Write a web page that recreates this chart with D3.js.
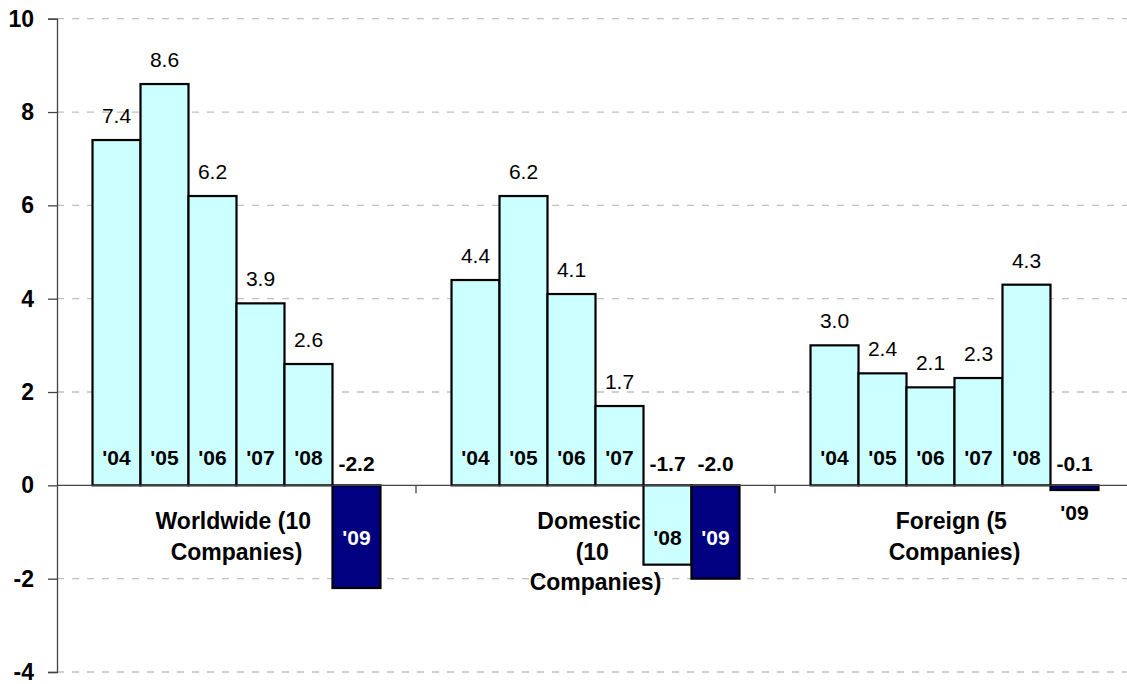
<!DOCTYPE html>
<html>
<head>
<meta charset="utf-8">
<script src="https://cdn.jsdelivr.net/npm/d3@7"></script>
<style>
  body { margin: 0; background: #fff; }
  svg { display: block; }
  svg text { font-family: "Liberation Sans", Arial, sans-serif; white-space: pre; }
  .grid line { stroke: #c0c0c0; stroke-dasharray: 7 8; stroke-width: 1.3; }
  .bar { stroke: #000; stroke-width: 2.2; }
</style>
</head>
<body>
<svg width="1127" height="684"></svg>
<script>
// data
var categories = ["Worldwide", "Domestic", "Foreign"];
var categoryLines = [
    ["Worldwide (10 ", "Companies)"],
    ["Domestic  ", "(10 ", "Companies)"],
    ["Foreign (5 ", "Companies)"]
];
var years = ["'04", "'05", "'06", "'07", "'08", "'09"];
var worldwide = [7.4, 8.6, 6.2, 3.9, 2.6, -2.2];
var domestic = [4.4, 6.2, 4.1, 1.7, -1.7, -2.0];
var foreign = [3.0, 2.4, 2.1, 2.3, 4.3, -0.1];
var yTicks = [-4, -2, 0, 2, 4, 6, 8, 10];

var seriesByCat = [worldwide, domestic, foreign];

const svg = d3.select("svg");
const plotL = 57, plotR = 1134, plotT = 18.7, plotB = 672;

var x0 = d3.scaleBand().domain(categories).range([plotL, plotR]);
var x1 = d3.scaleBand().domain(years).range([0, x0.bandwidth()])
    .paddingInner(0).paddingOuter(0.74);
var y = d3.scaleLinear().domain([-4, 10]).range([plotB, plotT]);
var zero = y(0);

// flat list of bars
var bars = [];
categories.forEach(function(c, ci) {
    seriesByCat[ci].forEach(function(v, i) {
        bars.push({cat: c, year: years[i], v: v, last: i == years.length - 1});
    });
});

// gridlines
svg.append("g").attr("class", "grid")
  .selectAll("line")
    .data(yTicks.filter(t => t != 0))
  .enter().append("line")
    .attr("x1", plotL).attr("x2", plotR)
    .attr("y1", t => y(t)).attr("y2", t => y(t));

// y axis
var yAxis = d3.axisLeft(y).tickValues(yTicks).tickSize(9).tickPadding(14).tickFormat(d => String(d));
var ya = svg.append("g").attr("transform", `translate(${plotL},0)`).call(yAxis)
    .attr("font-family", null).attr("font-size", null);
ya.select(".domain").attr("stroke", "#444").attr("stroke-width", 1.3);
ya.selectAll(".tick line").attr("stroke", "#444").attr("stroke-width", 1.3);
ya.selectAll(".tick text").attr("font-size", 23).attr("font-weight", "bold")
    .attr("fill", "#000").attr("dy", "0.33em");

// bars
svg.append("g").selectAll("rect.bar")
    .data(bars)
  .enter().append("rect")
    .attr("class", "bar")
    .attr("x", d => x0(d.cat) + x1(d.year))
    .attr("width", x1.bandwidth())
    .attr("y", d => Math.min(y(d.v), zero))
    .attr("height", d => Math.abs(y(d.v) - zero))
    .attr("fill", d => d.last ? "#000080" : "#ccffff");

// zero axis with category ticks
var xa = svg.append("g");
xa.append("line")
    .attr("x1", plotL).attr("x2", plotR)
    .attr("y1", zero).attr("y2", zero)
    .attr("stroke", "#444").attr("stroke-width", 1.3);
xa.selectAll("line.tk")
    .data(categories.slice(1))
  .enter().append("line")
    .attr("class", "tk")
    .attr("x1", c => x0(c)).attr("x2", c => x0(c))
    .attr("y1", zero).attr("y2", zero + 8)
    .attr("stroke", "#444").attr("stroke-width", 1.3);

var cx = d => x0(d.cat) + x1(d.year) + x1.bandwidth() / 2;

// value labels
svg.append("g").selectAll("text")
    .data(bars)
  .enter().append("text")
    .attr("x", cx)
    .attr("y", d => d.v >= 0 ? y(d.v) - 17 : zero - 14)
    .attr("text-anchor", "middle")
    .attr("font-size", 21)
    .attr("font-weight", d => d.v >= 0 ? "normal" : "bold")
    .text(d => d.v.toFixed(1));

// year labels
svg.append("g").selectAll("text")
    .data(bars)
  .enter().append("text")
    .attr("x", cx)
    .attr("y", function(d) {
        if (d.v >= 0) return zero - 20;
        if (y(d.v) - zero > 30) return zero + 60;
        return y(d.v) + 30;
    })
    .attr("text-anchor", "middle")
    .attr("font-size", 21)
    .attr("font-weight", "bold")
    .attr("fill", d => (d.last && y(d.v) - zero > 30) ? "#fff" : "#000")
    .text(d => d.year);

// category labels
var cl = svg.append("g").selectAll("text")
    .data(categories)
  .enter().append("text")
    .attr("x", c => x0(c) + x0.bandwidth() / 2)
    .attr("y", zero + 44)
    .attr("text-anchor", "middle")
    .attr("font-size", 23)
    .attr("font-weight", "bold");
cl.each(function(c, i) {
    d3.select(this).selectAll("tspan")
        .data(categoryLines[i])
      .enter().append("tspan")
        .attr("x", x0(c) + x0.bandwidth() / 2)
        .attr("dy", (t, j) => j == 0 ? 0 : 30.5)
        .text(t => t);
});
</script>
</body>
</html>
